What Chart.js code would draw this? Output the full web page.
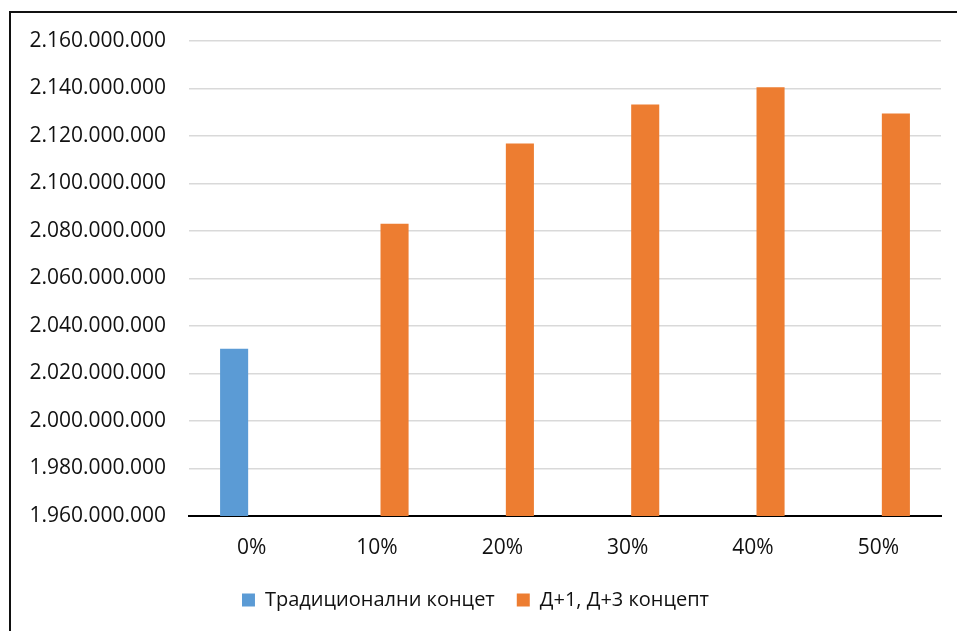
<!DOCTYPE html>
<html>
<head>
<meta charset="utf-8">
<script src="https://cdn.jsdelivr.net/npm/chart.js@4"></script>
<style>
  html, body { margin: 0; padding: 0; background: #fff; overflow: hidden; }
  #wrap { position: relative; width: 957px; height: 631px; overflow: hidden; }
  #wrap canvas { position: absolute; left: 0; top: 0; }
  /* chart frame: only its top and left edges fall inside the page */
  #frame { position: absolute; left: 9px; top: 11px; width: 1000px; height: 700px;
           border-left: 2px solid #111; border-top: 2px solid #111; pointer-events: none; }
</style>
</head>
<body>
<div id="wrap">
  <canvas id="chart" width="957" height="631"></canvas>
  <div id="frame"></div>
</div>
<script>
// categories (x axis)
const categories = ['0%', '10%', '20%', '30%', '40%', '50%'];

// series values
const traditionalValues = [2030400000, null, null, null, null, null];
const conceptValues = [null, 2083100000, 2116800000, 2133300000, 2140500000, 2129500000];

// series names
const seriesNames = ['Традиционални концет', 'Д+1, Д+3 концепт'];

// y axis tick values
const yTicks = [1960000000, 1980000000, 2000000000, 2020000000, 2040000000, 2060000000,
                2080000000, 2100000000, 2120000000, 2140000000, 2160000000];

const FONT = "'Open Sans', 'Noto Sans', sans-serif";
const TEXT = '#111111';
const FONT_SIZE = 21;

function formatThousands(n) {
  return String(n).replace(/\B(?=(\d{3})+(?!\d))/g, '.');
}

new Chart(document.getElementById('chart'), {
  type: 'bar',
  data: {
    labels: categories,
    datasets: [
      { label: seriesNames[0], data: traditionalValues, backgroundColor: '#5B9BD5', borderWidth: 0,
        categoryPercentage: 0.56, barPercentage: 0.8 },
      { label: seriesNames[1], data: conceptValues, backgroundColor: '#ED7D31', borderWidth: 0,
        categoryPercentage: 0.56, barPercentage: 0.8 }
    ]
  },
  options: {
    responsive: false,
    animation: false,
    devicePixelRatio: 1,
    layout: { padding: { top: 41, right: 16, bottom: 11, left: 10 } },
    plugins: {
      tooltip: { enabled: false },
      legend: {
        position: 'bottom',
        labels: {
          color: TEXT,
          font: { family: FONT, size: 20 },
          boxWidth: 13,
          boxHeight: 13,
          padding: 22
        }
      }
    },
    scales: {
      x: {
        grid: { display: false, drawTicks: false },
        border: { display: true, color: '#000', width: 2 },
        ticks: { color: TEXT, font: { family: FONT, size: FONT_SIZE }, padding: 19, maxRotation: 0 },
        afterFit: s => { s.height = 52; }
      },
      y: {
        min: yTicks[0],
        max: yTicks[yTicks.length - 1],
        afterBuildTicks: s => { s.ticks = yTicks.map(v => ({ value: v })); },
        grid: { color: '#d9d9d9', lineWidth: 1.5, drawTicks: false },
        border: { display: false },
        ticks: { color: TEXT, font: { family: FONT, size: FONT_SIZE }, padding: 23,
                 callback: v => formatThousands(v) },
        afterFit: s => { s.width = 179; }
      }
    }
  }
});
</script>
</body>
</html>
